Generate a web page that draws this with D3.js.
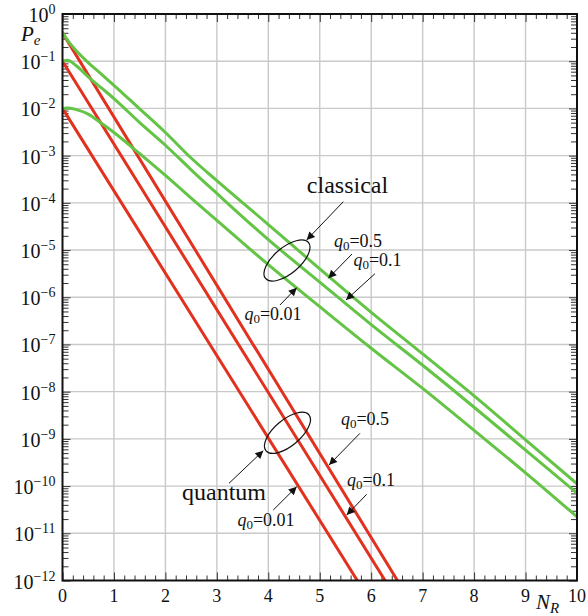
<!DOCTYPE html>
<html>
<head>
<meta charset="utf-8">
<script src="https://cdn.jsdelivr.net/npm/d3@7"></script>
<style>
  html, body { margin: 0; padding: 0; background: #fff; }
  svg { display: block; }
  svg text { font-family: "Liberation Serif", serif; fill: #111; }
</style>
</head>
<body>
<svg id="chart" width="588" height="616"></svg>
<script>
// ---- data -------------------------------------------------------------
// x axis: received photon number N_R ; y axis: error probability P_e
const xTickLabels = ["0", "1", "2", "3", "4", "5", "6", "7", "8", "9", "10"];
const yDecadeExponents = [0, -1, -2, -3, -4, -5, -6, -7, -8, -9, -10, -11, -12];

// classical receiver curves (green)
const classicalNR = [0, 0.1, 0.25, 0.5, 0.75, 1, 1.5, 2, 2.5, 3, 4, 5, 6, 7, 8, 9, 10];
const classicalQ05 = [3.98e-1, 2.75e-1, 1.74e-1, 9.33e-2, 5.37e-2, 3.09e-2, 9.77e-3, 3.09e-3,
                      8.91e-4, 2.95e-4, 3.47e-5, 3.98e-6, 4.79e-7, 6.31e-8, 8.13e-9, 9.55e-10, 1.12e-10];
const classicalQ01 = [1.00e-1, 1.05e-1, 8.32e-2, 4.68e-2, 2.75e-2, 1.62e-2, 5.01e-3, 1.66e-3,
                      5.01e-4, 1.58e-4, 1.66e-5, 2.09e-6, 2.63e-7, 3.63e-8, 4.68e-9, 5.75e-10, 7.08e-11];
const classicalQ001 = [1.00e-2, 1.02e-2, 9.55e-3, 7.59e-3, 4.90e-3, 3.09e-3, 1.10e-3, 3.80e-4,
                       1.26e-4, 4.27e-5, 4.90e-6, 6.31e-7, 8.32e-8, 1.17e-8, 1.51e-9, 1.91e-10, 2.24e-11];

// quantum receiver curves (red): straight lines on the log axis
const quantumQ05NR = [0, 6.51];
const quantumQ05 = [3.98e-1, 1e-12];
const quantumQ01NR = [0, 6.27];
const quantumQ01 = [1.0e-1, 1e-12];
const quantumQ001NR = [0, 5.73];
const quantumQ001 = [1.0e-2, 1e-12];

// ---- layout -----------------------------------------------------------
const FONT = "Liberation Serif";
const svg = d3.select("#chart");
const plot = { left: 62.5, right: 577, top: 14, bottom: 580.5 };

const x = d3.scaleLinear().domain([0, 10]).range([plot.left, plot.right]);
const y = d3.scaleLog().domain([1e-12, 1]).range([plot.bottom, plot.top]);

const red = "#e2321f";
const green = "#63c445";
const gridColor = "#c9c9c9";

const xMajor = xTickLabels.map(Number);
const xMinor = d3.range(0, 50).map(i => i / 5).filter(v => !Number.isInteger(v));
const yMajor = yDecadeExponents.map(e => Math.pow(10, e));
const yMinor = [];
yDecadeExponents.slice(1).forEach(e => {
  for (let m = 2; m <= 9; m++) yMinor.push(m * Math.pow(10, e));
});

// ---- grid -------------------------------------------------------------
const grid = svg.append("g").attr("stroke", gridColor).attr("stroke-width", 1.4);
grid.selectAll("line.gx").data(xMajor.slice(1, -1)).join("line")
  .attr("x1", d => x(d)).attr("x2", d => x(d))
  .attr("y1", plot.top).attr("y2", plot.bottom);
grid.selectAll("line.gy").data(yMajor.slice(1, -1)).join("line")
  .attr("x1", plot.left).attr("x2", plot.right)
  .attr("y1", d => y(d)).attr("y2", d => y(d));

// ---- ticks (inside on all four sides) --------------------------------
function tickAxis(gen, values, size, transform) {
  const g = svg.append("g").attr("transform", transform)
    .call(gen.tickValues(values).tickSize(size).tickFormat(""));
  g.select(".domain").remove();
  g.selectAll(".tick text").remove();
  g.selectAll(".tick line").attr("stroke", "#333").attr("stroke-width", 1);
  return g;
}
tickAxis(d3.axisBottom(x), xMajor, -8, `translate(0,${plot.bottom})`);
tickAxis(d3.axisBottom(x), xMinor, -5, `translate(0,${plot.bottom})`);
tickAxis(d3.axisTop(x), xMajor, -8, `translate(0,${plot.top})`);
tickAxis(d3.axisTop(x), xMinor, -5, `translate(0,${plot.top})`);
tickAxis(d3.axisLeft(y), yMajor, -8, `translate(${plot.left},0)`);
tickAxis(d3.axisLeft(y), yMinor, -6, `translate(${plot.left},0)`);
tickAxis(d3.axisRight(y), yMajor, -8, `translate(${plot.right},0)`);
tickAxis(d3.axisRight(y), yMinor, -6, `translate(${plot.right},0)`);

// ---- curves -----------------------------------------------------------
svg.append("clipPath").attr("id", "plotClip").append("rect")
  .attr("x", plot.left).attr("y", plot.top)
  .attr("width", plot.right - plot.left).attr("height", plot.bottom - plot.top);

const line = d3.line().x(d => x(d[0])).y(d => y(d[1])).curve(d3.curveMonotoneX);
const curves = svg.append("g").attr("clip-path", "url(#plotClip)")
  .attr("fill", "none").attr("stroke-width", 3).attr("stroke-linecap", "round");

[
  { nr: quantumQ001NR, pe: quantumQ001, color: red },
  { nr: quantumQ01NR, pe: quantumQ01, color: red },
  { nr: quantumQ05NR, pe: quantumQ05, color: red },
  { nr: classicalNR, pe: classicalQ001, color: green },
  { nr: classicalNR, pe: classicalQ01, color: green },
  { nr: classicalNR, pe: classicalQ05, color: green }
].forEach(s => {
  curves.append("path")
    .datum(d3.zip(s.nr, s.pe))
    .attr("stroke", s.color)
    .attr("d", line);
});

// ---- frame ------------------------------------------------------------
svg.append("rect")
  .attr("x", plot.left).attr("y", plot.top)
  .attr("width", plot.right - plot.left).attr("height", plot.bottom - plot.top)
  .attr("fill", "none").attr("stroke", "#111").attr("stroke-width", 2);

// ---- tick labels ------------------------------------------------------
svg.append("g").selectAll("text").data(xMajor).join("text")
  .attr("font-family", FONT)
  .attr("x", d => x(d)).attr("y", plot.bottom + 21)
  .attr("text-anchor", "middle").attr("font-size", 18)
  .text((d, i) => xTickLabels[i]);

const yLab = svg.append("g").selectAll("text").data(yDecadeExponents).join("text")
  .attr("font-family", FONT)
  .attr("x", plot.left - 7).attr("y", e => y(Math.pow(10, e)) + 8)
  .attr("text-anchor", "end").attr("font-size", 20);
yLab.append("tspan").text("10");
yLab.append("tspan").attr("font-size", 14).attr("dy", -8)
  .text(e => (e < 0 ? "\u2212" + (-e) : String(e)));

// ---- axis titles ------------------------------------------------------
const pe = svg.append("text").attr("font-family", FONT)
  .attr("x", 21).attr("y", 41).attr("font-size", 21);
pe.append("tspan").attr("font-style", "italic").text("P");
pe.append("tspan").attr("font-style", "italic").attr("font-size", 15).attr("dy", 4).text("e");

const nr = svg.append("text").attr("font-family", FONT)
  .attr("x", 536).attr("y", 609).attr("font-size", 21);
nr.append("tspan").attr("font-style", "italic").text("N");
nr.append("tspan").attr("font-style", "italic").attr("font-size", 15).attr("dy", 4).text("R");

// ---- annotations ------------------------------------------------------
const px = (n, lg) => [x(n), y(Math.pow(10, lg))];

svg.append("defs").append("marker")
  .attr("id", "arrowHead").attr("viewBox", "0 0 10 10")
  .attr("refX", 10).attr("refY", 5)
  .attr("markerWidth", 11).attr("markerHeight", 8)
  .attr("markerUnits", "userSpaceOnUse").attr("orient", "auto")
  .append("path").attr("d", "M0,0 L10,5 L0,10 Z").attr("fill", "#111");

const notes = svg.append("g");

function arrow(from, to) {
  const a = px(from[0], from[1]), b = px(to[0], to[1]);
  notes.append("line")
    .attr("x1", a[0]).attr("y1", a[1]).attr("x2", b[0]).attr("y2", b[1])
    .attr("stroke", "#111").attr("stroke-width", 1)
    .attr("marker-end", "url(#arrowHead)");
}
function ellipse(center) {
  const c = px(center[0], center[1]);
  notes.append("ellipse")
    .attr("cx", 0).attr("cy", 0).attr("rx", 28).attr("ry", 13)
    .attr("transform", `translate(${c[0]},${c[1]}) rotate(-40)`)
    .attr("fill", "none").attr("stroke", "#111").attr("stroke-width", 1.2);
}
function word(pos, txt) {
  const p = px(pos[0], pos[1]);
  notes.append("text").attr("font-family", FONT)
    .attr("x", p[0]).attr("y", p[1])
    .attr("text-anchor", "middle").attr("font-size", 24).text(txt);
}
function qLabel(pos, val) {
  const p = px(pos[0], pos[1]);
  const t = notes.append("text").attr("font-family", FONT)
    .attr("x", p[0]).attr("y", p[1])
    .attr("text-anchor", "middle").attr("font-size", 18);
  t.append("tspan").attr("font-style", "italic").text("q");
  t.append("tspan").attr("font-size", 13).attr("dy", 3).text("0");
  t.append("tspan").attr("dy", -3).text("=" + val);
}

// classical group
ellipse([4.363, -5.221]);
word([5.539, -3.792], "classical");
arrow([5.458, -3.976], [4.746, -4.787]);
qLabel([5.743, -4.935], "0.5");
arrow([5.627, -5.084], [5.166, -5.598]);
qLabel([6.122, -5.33], "0.1");
arrow([6.074, -5.500], [5.510, -6.058]);
qLabel([4.091, -6.482], "0.01");
arrow([4.227, -6.164], [4.552, -5.798]);

// quantum group
ellipse([4.373, -8.871]);
word([3.139, -10.294], "quantum");
arrow([3.236, -9.941], [3.903, -9.250]);
qLabel([5.879, -8.706], "0.5");
arrow([5.782, -8.882], [5.180, -9.553]);
qLabel([5.996, -9.998], "0.1");
arrow([5.912, -10.174], [5.524, -10.612]);
qLabel([3.955, -10.845], "0.01");
arrow([4.097, -10.506], [4.552, -10.013]);
</script>
</body>
</html>
